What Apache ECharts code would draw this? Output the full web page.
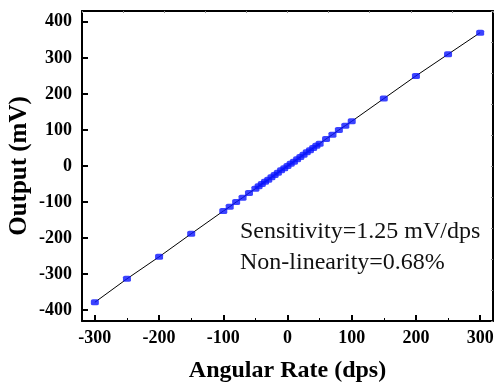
<!DOCTYPE html>
<html>
<head>
<meta charset="utf-8">
<script src="https://cdn.jsdelivr.net/npm/echarts@6/dist/echarts.min.js"></script>
<style>
  html, body { margin: 0; padding: 0; background: #fff; }
  #main { width: 496px; height: 385px; }
</style>
</head>
<body>
<div id="main"></div>
<script>
// angular rate (dps) and measured output (mV)
var rates = [-300, -250, -200, -150, -100, -90, -80, -70, -60, -50, -45, -40, -35, -30, -25, -20, -15, -10, -5, 0,
             5, 10, 15, 20, 25, 30, 35, 40, 45, 50, 60, 70, 80, 90, 100, 150, 200, 250, 300];
var outputs = [-378, -313, -252, -188, -125, -113, -100, -88, -75, -63, -56, -50, -44, -38, -31, -25, -19, -12, -6, 0,
               6, 12, 19, 25, 31, 38, 44, 50, 56, 62, 75, 87, 100, 112, 124, 187, 250, 310, 370];
var xTicks = [-300, -200, -100, 0, 100, 200, 300];
var yTicks = [-400, -300, -200, -100, 0, 100, 200, 300, 400];
var notes = ['Sensitivity=1.25 mV/dps', 'Non-linearity=0.68%'];

var pts = rates.map(function (r, i) { return [r, outputs[i]]; });
var serif = '"Liberation Serif", "Times New Roman", serif';

var chart = echarts.init(document.getElementById('main'));
chart.setOption({
  animation: false,
  grid: { left: 82, right: 3, top: 11, bottom: 64, containLabel: false, outerBoundsMode: 'none' },
  xAxis: [
    {
      type: 'value', min: -320, max: 320,
      name: 'Angular Rate (dps)', nameLocation: 'middle', nameGap: 38,
      nameTextStyle: { fontFamily: serif, fontWeight: 'bold', fontSize: 24, color: '#000' },
      axisLine: { onZero: false, lineStyle: { color: '#000', width: 2 } },
      axisTick: { inside: true, length: 6, lineStyle: { color: '#000', width: 2 }, customValues: xTicks },
      minorTick: { show: true, splitNumber: 2, length: 3, lineStyle: { color: '#000', width: 1 } },
      axisLabel: {
        customValues: xTicks, margin: 8,
        fontFamily: serif, fontWeight: 'bold', fontSize: 18, color: '#000'
      },
      splitLine: { show: false }
    },
    {
      type: 'value', position: 'top', min: -5, max: 5, interval: 1,
      axisLine: { onZero: false, lineStyle: { color: '#000', width: 2 } },
      axisTick: { inside: true, length: 2, lineStyle: { color: '#888', width: 1 } },
      axisLabel: { show: false },
      splitLine: { show: false }
    }
  ],
  yAxis: [
    {
      type: 'value', min: -430, max: 430,
      name: 'Output (mV)', nameLocation: 'middle', nameGap: 50, nameRotate: 90,
      nameMoveOverlap: false,
      nameTextStyle: { fontFamily: serif, fontWeight: 'bold', fontSize: 25, color: '#000' },
      axisLine: { onZero: false, lineStyle: { color: '#000', width: 2 } },
      axisTick: { inside: true, length: 6, lineStyle: { color: '#000', width: 2 }, customValues: yTicks },
      minorTick: { show: true, splitNumber: 2, length: 3, lineStyle: { color: '#000', width: 1 } },
      axisLabel: {
        customValues: yTicks, margin: 10,
        fontFamily: serif, fontWeight: 'bold', fontSize: 18, color: '#000'
      },
      splitLine: { show: false }
    },
    {
      type: 'value', position: 'right', min: -5, max: 5, interval: 1,
      axisLine: { onZero: false, lineStyle: { color: '#000', width: 2 } },
      axisTick: { inside: true, length: 2, lineStyle: { color: '#888', width: 1 } },
      axisLabel: { show: false },
      splitLine: { show: false }
    }
  ],
  series: [
    {
      type: 'line', data: pts, xAxisIndex: 0, yAxisIndex: 0,
      showSymbol: false, symbol: 'none',
      lineStyle: { color: '#000', width: 1 }, z: 2
    },
    {
      type: 'scatter', data: pts, xAxisIndex: 0, yAxisIndex: 0,
      symbol: 'roundRect', symbolSize: [8, 6],
      itemStyle: { color: '#0a14ff' }, z: 3
    }
  ],
  graphic: [
    { type: 'text', x: 240, y: 244, style: { text: notes[0], font: '24px ' + serif, fill: '#111', verticalAlign: 'bottom' } },
    { type: 'text', x: 240, y: 275, style: { text: notes[1], font: '24px ' + serif, fill: '#111', verticalAlign: 'bottom' } }
  ]
});
</script>
</body>
</html>
